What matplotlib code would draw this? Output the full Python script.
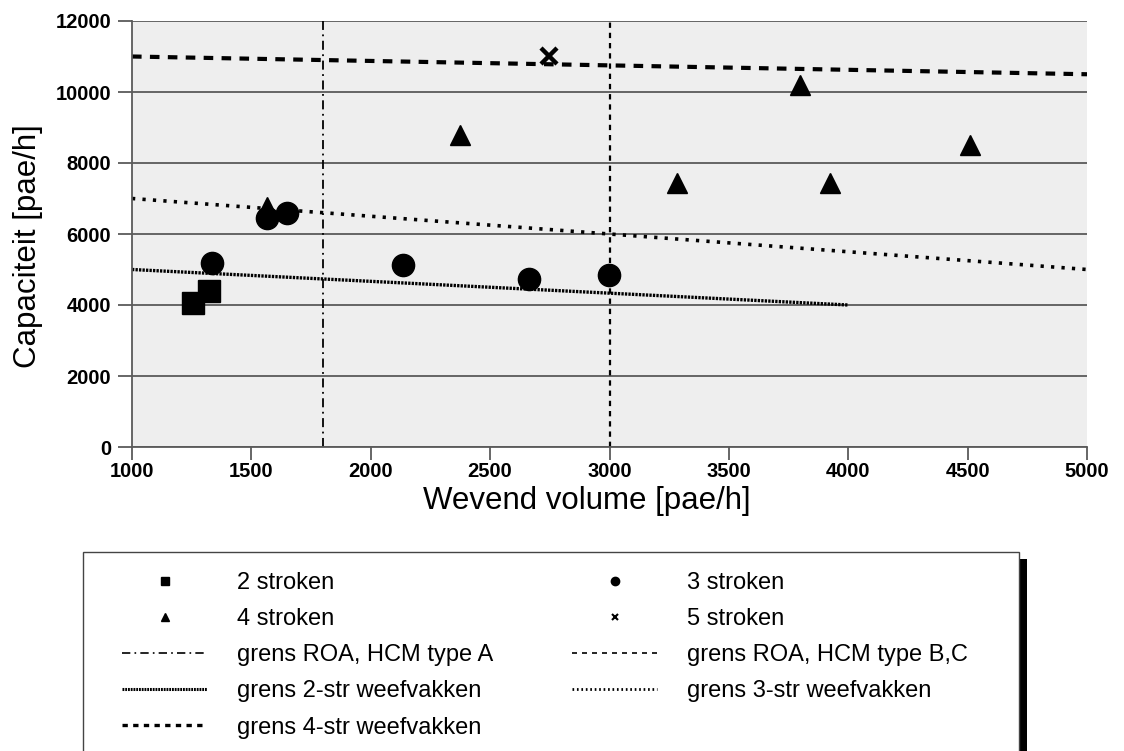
import matplotlib
matplotlib.use("Agg")
import matplotlib.pyplot as plt
from matplotlib.lines import Line2D
from matplotlib.patches import Rectangle

plt.rcParams['font.family'] = ['Liberation Sans', 'DejaVu Sans']

# ---- data ----
x2 = [1254, 1322]
y2 = [4050, 4400]
x3 = [1334, 1567, 1650, 2136, 2664, 2998]
y3 = [5175, 6440, 6600, 5120, 4740, 4850]
x4 = [1567, 2374, 3283, 3798, 3924, 4510]
y4 = [6750, 8790, 7440, 10200, 7440, 8510]
x5 = [2748]
y5 = [11010]

grens_A_x = 1800
grens_BC_x = 3000
lim2_x = [1000, 4000]
lim2_y = [5000, 4000]
lim3_x = [1000, 5000]
lim3_y = [7000, 5000]
lim4_x = [1000, 5000]
lim4_y = [11000, 10500]

xticks = [1000, 1500, 2000, 2500, 3000, 3500, 4000, 4500, 5000]
yticks = [0, 2000, 4000, 6000, 8000, 10000, 12000]

W, H = 1124, 751
AX_L, AX_R, AX_T, AX_B = 132, 1087, 21, 447
fig = plt.figure(figsize=(W / 100, H / 100), dpi=100)
ax = fig.add_axes([AX_L / W, 1 - AX_B / H, (AX_R - AX_L) / W, (AX_B - AX_T) / H])
ax.set_facecolor('#eeeeee')
ax.set_xlim(1000, 5000)
ax.set_ylim(0, 12000)
ax.set_xticks(xticks)
ax.set_yticks(yticks)
gridc = '#5a5a5a'
ax.yaxis.grid(True, color=gridc, linewidth=1.3)
ax.set_axisbelow(True)
for s in ['top', 'right']:
    ax.spines[s].set_visible(False)
for s in ['left', 'bottom']:
    ax.spines[s].set_color(gridc)
    ax.spines[s].set_linewidth(1.3)
ax.tick_params(axis='both', width=1.3, color=gridc, labelsize=14.5)
ax.tick_params(axis='x', length=9, pad=2)
ax.tick_params(axis='y', length=10, pad=5)
for lab in ax.get_xticklabels() + ax.get_yticklabels():
    lab.set_fontweight('bold')

st_A = (0, (5, 2.5, 1, 2.5))
st_BC = (0, (2.4, 2.2))
st_2 = (0, (0.7, 0.35))
st_3 = (0, (0.9, 2.0))
st_4 = (0, (2.3, 2.0))

ax.axvline(grens_A_x, color='black', linewidth=1.3, linestyle=st_A)
ax.axvline(grens_BC_x, color='black', linewidth=1.6, linestyle=st_BC)
ax.plot(lim2_x, lim2_y, color='black', linewidth=2.4, linestyle=st_2)
ax.plot(lim3_x, lim3_y, color='black', linewidth=2.6, linestyle=st_3)
ax.plot(lim4_x, lim4_y, color='black', linewidth=3.0, linestyle=st_4)

ax.plot(x2, y2, linestyle='none', marker='s', markersize=16, color='black')
ax.plot(x3, y3, linestyle='none', marker='o', markersize=16, color='black')
ax.plot(x4, y4, linestyle='none', marker='^', markersize=15, color='black')
ax.plot(x5, y5, linestyle='none', marker='x', markersize=11, markeredgewidth=3.2, color='black')

ax.set_xlabel('Wevend volume [pae/h]', fontsize=22.5)
ax.set_ylabel('Capaciteit [pae/h]', fontsize=22.5)
# label centres in pixel coordinates, converted to axes fraction
ax.xaxis.set_label_coords((587 - AX_L) / (AX_R - AX_L), (AX_B - 501) / (AX_B - AX_T))
ax.xaxis.label.set_va('center')
ax.yaxis.set_label_coords((28 - AX_L) / (AX_R - AX_L), (AX_B - 246) / (AX_B - AX_T))
ax.yaxis.label.set_va('center')

# legend frame and shadow (pixel coords)
def fr(x0, y0, x1, y1):
    return (x0 / W, 1 - y1 / H), (x1 - x0) / W, (y1 - y0) / H

xy, w, h = fr(1019, 559, 1027, 760)
fig.add_artist(Rectangle(xy, w, h, transform=fig.transFigure, facecolor='black', edgecolor='none', zorder=1))
xy, w, h = fr(83, 552, 1019, 760)
fig.add_artist(Rectangle(xy, w, h, transform=fig.transFigure, facecolor='white', edgecolor='#444444', linewidth=1.0, zorder=2))

h_2 = Line2D([], [], linestyle='none', marker='s', markersize=6, color='black')
h_3 = Line2D([], [], linestyle='none', marker='o', markersize=6, color='black')
h_4 = Line2D([], [], linestyle='none', marker='^', markersize=6, color='black')
h_5 = Line2D([], [], linestyle='none', marker='x', markersize=5, markeredgewidth=1.5, color='black')
h_A = Line2D([], [], color='black', linewidth=1.2, linestyle=(0, (5, 2.5, 1, 2.5)))
h_BC = Line2D([], [], color='black', linewidth=1.2, linestyle=(0, (3, 3)))
h_l2 = Line2D([], [], color='black', linewidth=2.2, linestyle=(0, (0.6, 0.3)))
h_l3 = Line2D([], [], color='black', linewidth=2.0, linestyle=(0, (0.6, 1.0)))
h_l4 = Line2D([], [], color='black', linewidth=2.4, linestyle=(0, (1.6, 1.6)))

legkw = dict(frameon=False, loc='upper left', fontsize=17, handlelength=3.6,
             handletextpad=1.27, labelspacing=0.6, borderpad=0, borderaxespad=0)
leg1 = fig.legend([h_2, h_4, h_A, h_l2, h_l4],
                  ['2 stroken', '4 stroken', 'grens ROA, HCM type A',
                   'grens 2-str weefvakken', 'grens 4-str weefvakken'],
                  bbox_to_anchor=(122 / W, 1 - 572 / H), **legkw)
leg2 = fig.legend([h_3, h_5, h_BC, h_l3],
                  ['3 stroken', '5 stroken', 'grens ROA, HCM type B,C',
                   'grens 3-str weefvakken'],
                  bbox_to_anchor=(572 / W, 1 - 572 / H), **legkw)
leg1.set_zorder(5)
leg2.set_zorder(5)

fig.savefig('out.png', dpi=100)
